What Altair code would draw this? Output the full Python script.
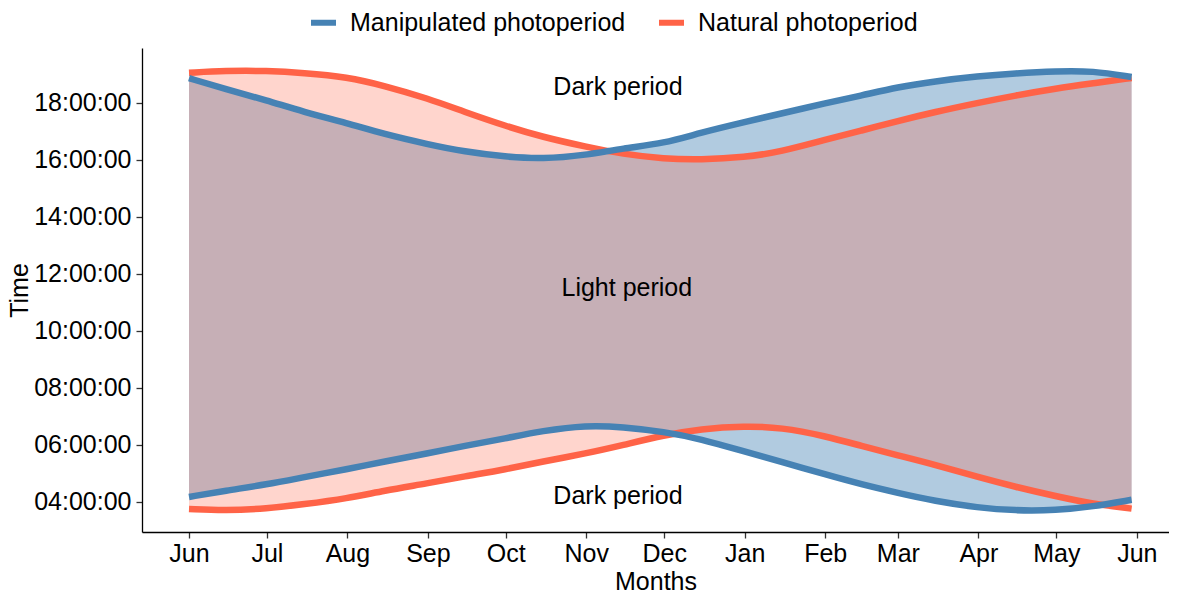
import altair as alt
import pandas as pd

# Month ticks (days counted from 1 June)
month_labels = ["Jun", "Jul", "Aug", "Sep", "Oct", "Nov", "Dec", "Jan", "Feb", "Mar", "Apr", "May", "Jun"]
month_days = [0, 30, 61, 92, 122, 153, 183, 214, 245, 273, 304, 334, 365]

# Sample days (from 1 June) at which the curves were read
days = [0, 14, 30, 44, 61, 75, 92, 106, 122, 136, 153, 167, 183, 197, 214, 228, 245, 259, 273, 287, 304, 318, 334, 348, 363]

# Hours of day (decimal)
natural_sunset = [19.05, 19.12, 19.12, 19.05, 18.90, 18.60, 18.15, 17.68, 17.18, 16.80, 16.45, 16.20, 16.03,
                  16.00, 16.08, 16.28, 16.70, 17.02, 17.36, 17.67, 18.00, 18.25, 18.50, 18.68, 18.87]
manip_sunset = [18.86, 18.48, 18.08, 17.68, 17.28, 16.90, 16.54, 16.28, 16.10, 16.02, 16.16, 16.40, 16.57,
                16.95, 17.32, 17.62, 17.98, 18.25, 18.55, 18.75, 18.93, 19.03, 19.11, 19.12, 18.90]
natural_sunrise = [3.74, 3.68, 3.75, 3.90, 4.11, 4.38, 4.64, 4.88, 5.13, 5.40, 5.69, 5.98, 6.33,
                   6.55, 6.65, 6.60, 6.30, 5.95, 5.62, 5.30, 4.85, 4.52, 4.18, 3.92, 3.75]
manip_sunrise = [4.16, 4.38, 4.60, 4.85, 5.14, 5.40, 5.69, 5.95, 6.22, 6.48, 6.68, 6.62, 6.45,
                 6.20, 5.75, 5.40, 4.95, 4.60, 4.30, 4.02, 3.78, 3.68, 3.69, 3.82, 4.06]

series_names = ["Manipulated photoperiod", "Natural photoperiod"]
series_colors = ["#4682B4", "#FF6347"]

annot_text = ["Dark period", "Light period", "Dark period"]
annot_day = [165.2, 168.6, 165.2]
annot_hour = [18.54, 11.50, 4.19]

y_ticks = [4, 6, 8, 10, 12, 14, 16, 18]

rows = []
for i, d in enumerate(days):
    rows.append(dict(day=d, series=series_names[0], rise=manip_sunrise[i], sset=manip_sunset[i]))
    rows.append(dict(day=d, series=series_names[1], rise=natural_sunrise[i], sset=natural_sunset[i]))
df = pd.DataFrame(rows)
annot = pd.DataFrame(dict(label=annot_text, day=annot_day, hour=annot_hour))

FONT = "Liberation Sans"
FS = 25

label_expr = "".join(f"datum.value == {d} ? '{m}' : " for d, m in zip(month_days, month_labels)) + "''"

x_scale = alt.Scale(domain=[-18.1, 377.4], nice=False, zero=False)
y_scale = alt.Scale(domain=[2.93, 19.92], nice=False, zero=False)

x_enc = alt.X("day:Q", scale=x_scale,
              axis=alt.Axis(values=month_days, labelExpr=label_expr, title="Months",
                            labelPadding=3, titlePadding=3))
y_enc = alt.Y("rise:Q", scale=y_scale,
              axis=alt.Axis(values=y_ticks,
                            labelExpr="(datum.value < 10 ? '0' : '') + datum.value + ':00:00'",
                            title="Time", labelPadding=5, titlePadding=1))

base = alt.Chart(df)
INTERP = "basis"

area_m = base.transform_filter(alt.datum.series == series_names[0]).mark_area(
    color=series_colors[0], opacity=0.42, interpolate=INTERP
).encode(x=x_enc, y=y_enc, y2="sset:Q")

area_n = base.transform_filter(alt.datum.series == series_names[1]).mark_area(
    color=series_colors[1], opacity=0.27, interpolate=INTERP
).encode(x=x_enc, y=y_enc, y2="sset:Q")

color_enc = alt.Color("series:N",
                      scale=alt.Scale(domain=series_names, range=series_colors),
                      legend=alt.Legend(title=None, orient="none", direction="horizontal",
                                        legendX=166, legendY=-41,
                                        symbolType="stroke", symbolStrokeWidth=6, symbolSize=625,
                                        labelFontSize=FS, labelFont=FONT, labelColor="black",
                                        labelLimit=0, labelOffset=11, columnPadding=21))


def lines(name):
    return base.transform_filter(alt.datum.series == name).transform_fold(
        ["rise", "sset"], as_=["edge", "hour"]
    ).mark_line(strokeWidth=6.5, interpolate=INTERP).encode(
        x=x_enc,
        y=alt.Y("hour:Q", scale=y_scale),
        color=color_enc,
        detail="edge:N",
    )


line_n = lines(series_names[1])
line_m = lines(series_names[0])

text = alt.Chart(annot).mark_text(font=FONT, fontSize=FS, color="black", baseline="middle").encode(
    x=alt.X("day:Q", scale=x_scale), y=alt.Y("hour:Q", scale=y_scale), text="label:N"
)

chart = alt.layer(area_m, area_n, line_n, line_m, text).properties(
    width=1027, height=484,
    autosize=alt.AutoSizeParams(type="none"),
    padding={"left": 134, "top": 40, "right": 0, "bottom": 63},
).configure_view(stroke=None).configure_axis(
    grid=False, domainColor="black", domainWidth=1.3, tickColor="#333333", tickWidth=1.3,
    tickSize=6, labelFont=FONT, labelFontSize=FS, labelColor="black",
    titleFont=FONT, titleFontSize=FS, titleColor="black", titleFontWeight="normal",
)

chart.save("out.html", embed_options={"renderer": "svg", "actions": False})
